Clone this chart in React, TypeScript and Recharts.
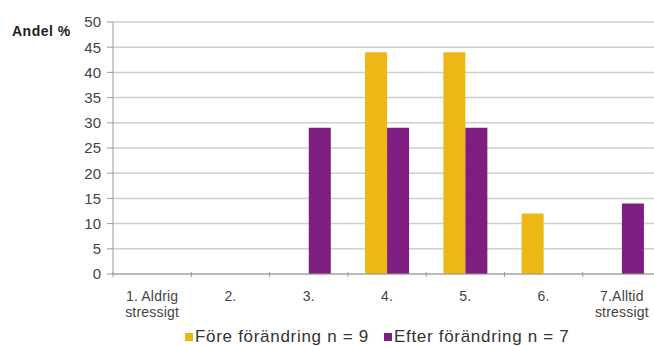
import { BarChart, Bar, XAxis, YAxis, CartesianGrid } from 'recharts'

// Andel (%) per svarsalternativ, före och efter förändringen
const categories = ['1. Aldrig\nstressigt', '2.', '3.', '4.', '5.', '6.', '7.Alltid\nstressigt']
const foreValues = [0, 0, 0, 44, 44, 12, 0]
const efterValues = [0, 0, 29, 29, 29, 0, 14]
const yTicks = [0, 5, 10, 15, 20, 25, 30, 35, 40, 45, 50]

const seriesNames = ['Före förändring n = 9', 'Efter förändring n = 7']
const colors = ['#EDB813', '#7E1E80']

const data = categories.map((cat, i) => ({
  cat,
  fore: foreValues[i],
  efter: efterValues[i],
}))

const FONT = 'Arial, "Liberation Sans", sans-serif'

// Category label, split on newline, plus an Excel-style tick at the left band edge
function CategoryTick(props: any) {
  const { x, y, payload, index, width } = props
  const band = (width ?? 548) / categories.length
  const lines = String(payload.value).split('\n')
  const left = x - band / 2
  return (
    <g>
      <line x1={left} x2={left} y1={y - 8} y2={y - 3} stroke="#9a9a9a" strokeWidth={1} />
      {index === categories.length - 1 && (
        <line x1={x + band / 2} x2={x + band / 2} y1={y - 8} y2={y - 3} stroke="#9a9a9a" strokeWidth={1} />
      )}
      <text
        x={x}
        y={y + 21}
        textAnchor="middle"
        fill="#444"
        fontSize={14}
        fontFamily={FONT}
        letterSpacing={0.2}
      >
        {lines.map((line, i) => (
          <tspan key={i} x={x} dy={i === 0 ? 0 : 16}>
            {line}
          </tspan>
        ))}
      </text>
    </g>
  )
}

function LegendRow() {
  return (
    <div
      style={{
        position: 'absolute',
        left: 185,
        top: 327,
        display: 'flex',
        alignItems: 'center',
        fontFamily: FONT,
        fontSize: 17,
        letterSpacing: 0.7,
        color: '#333',
        whiteSpace: 'nowrap',
      }}
    >
      {seriesNames.map((name, i) => (
        <span key={name} style={{ display: 'flex', alignItems: 'center', marginRight: i === 0 ? 15 : 0 }}>
          <span style={{ width: 8, height: 8, background: colors[i], marginRight: 2, display: 'inline-block' }} />
          {name}
        </span>
      ))}
    </div>
  )
}

export default function App() {
  return (
    <div style={{ position: 'absolute', left: 0, top: 0, width: 654, height: 346, background: '#fff', overflow: 'hidden' }}>
      <div
        style={{
          position: 'absolute',
          left: 12,
          top: 23,
          fontFamily: FONT,
          fontWeight: 'bold',
          fontSize: 14,
          letterSpacing: 0.5,
          color: '#222',
        }}
      >
        Andel %
      </div>
      {/* plot runs a little past the right edge and is clipped there */}
      <BarChart
        width={661}
        height={346}
        data={data}
        margin={{ top: 22, right: 0, bottom: 0, left: 0 }}
        barGap={0}
        barCategoryGap="22%"
      >
        <CartesianGrid vertical={false} stroke="#cfcfcf" strokeWidth={1.5} />
        <XAxis
          dataKey="cat"
          height={72}
          interval={0}
          axisLine={{ stroke: '#9a9a9a' }}
          tickLine={false}
          tick={<CategoryTick />}
          tickMargin={0}
        />
        <YAxis
          width={113}
          domain={[0, 50]}
          ticks={yTicks}
          interval={0}
          axisLine={{ stroke: '#9a9a9a' }}
          tickLine={{ stroke: '#9a9a9a' }}
          tickSize={6}
          tickMargin={6}
          tick={{ fill: '#444', fontSize: 15, fontFamily: FONT }}
        />
        <Bar dataKey="fore" name={seriesNames[0]} fill={colors[0]} isAnimationActive={false} />
        <Bar dataKey="efter" name={seriesNames[1]} fill={colors[1]} isAnimationActive={false} />
      </BarChart>
      <LegendRow />
    </div>
  )
}
